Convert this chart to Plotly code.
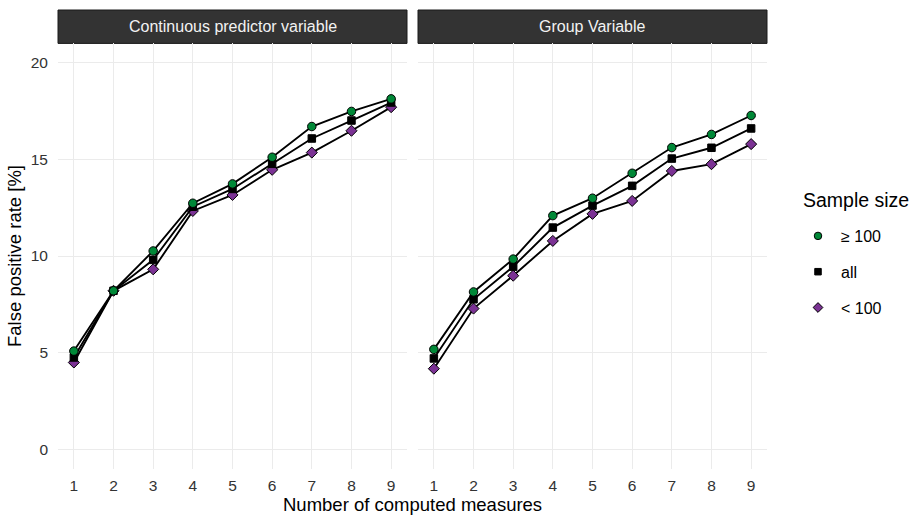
import plotly.graph_objects as go

W, H = 919, 516
measures = [1, 2, 3, 4, 5, 6, 7, 8, 9]
panels = ["Continuous predictor variable", "Group Variable"]
groups = ["≥ 100", "all", "< 100"]

cont_ge100 = [5.08, 8.20, 10.26, 12.73, 13.73, 15.11, 16.70, 17.48, 18.13]
cont_all   = [4.75, 8.20, 9.80, 12.55, 13.47, 14.77, 16.08, 17.01, 17.94]
cont_lt100 = [4.49, 8.20, 9.31, 12.33, 13.16, 14.46, 15.35, 16.48, 17.70]

grp_ge100 = [5.17, 8.14, 9.84, 12.09, 12.99, 14.28, 15.61, 16.29, 17.27]
grp_all   = [4.70, 7.76, 9.45, 11.47, 12.61, 13.63, 15.04, 15.60, 16.60]
grp_lt100 = [4.17, 7.28, 8.98, 10.78, 12.18, 12.85, 14.40, 14.75, 15.79]

y_ticks = [0, 5, 10, 15, 20]

styles = {
    "≥ 100": dict(symbol="circle", color="#008837", size=8.5),
    "all": dict(symbol="square", color="#000000", size=7.5),
    "< 100": dict(symbol="diamond", color="#7b3294", size=8.5),
}

data = {
    panels[0]: {"≥ 100": cont_ge100, "all": cont_all, "< 100": cont_lt100},
    panels[1]: {"≥ 100": grp_ge100, "all": grp_all, "< 100": grp_lt100},
}

FONT = "Liberation Sans, Arial, sans-serif"
TICKC = "#333333"
fig = go.Figure()

axes = [("x", "y"), ("x2", "y2")]
for (xa, ya), p in zip(axes, panels):
    for g in ["< 100", "all", "≥ 100"]:
        s = styles[g]
        fig.add_trace(go.Scatter(
            x=measures, y=data[p][g], xaxis=xa, yaxis=ya, mode="lines+markers",
            line=dict(color="black", width=1.9),
            marker=dict(symbol=s["symbol"], color=s["color"], size=s["size"],
                        line=dict(color="black", width=1)),
            showlegend=False, hoverinfo="skip"))

# legend-only entries (markers only)
for i, g in enumerate(groups):
    s = styles[g]
    fig.add_trace(go.Scatter(
        x=[None], y=[None], mode="markers", name=g, legendgroup=g,
        marker=dict(symbol=s["symbol"], color=s["color"], size=s["size"] - 1,
                    line=dict(color="black", width=1)),
        showlegend=True))

px_l = [(58, 407), (418, 767)]
y_top, y_bot = 43.4, 468.6
ydom = [1 - y_bot / H, 1 - y_top / H]

grid = "#ebebeb"
for i, (l, r) in enumerate(px_l):
    sfx = "" if i == 0 else str(i + 1)
    fig.update_layout(**{
        "xaxis" + sfx: dict(domain=[l / W, r / W], range=[0.6, 9.4],
                            tickvals=measures, ticktext=[str(m) for m in measures],
                            showgrid=True, gridcolor=grid, gridwidth=1.3,
                            zeroline=False, showline=False, ticks="",
                            ticklabelstandoff=6,
                            tickfont=dict(family=FONT, size=15.5, color=TICKC),
                            anchor="y" + sfx, fixedrange=True),
        "yaxis" + sfx: dict(domain=ydom, range=[-1, 21], tickvals=y_ticks,
                            showgrid=True, gridcolor=grid, gridwidth=1.3,
                            zeroline=False, showline=False, ticks="",
                            ticklabelstandoff=9,
                            showticklabels=(i == 0),
                            tickfont=dict(family=FONT, size=15.5, color=TICKC),
                            anchor="x" + sfx, fixedrange=True),
    })
    # strip
    fig.add_shape(type="rect", xref="paper", yref="paper",
                  x0=l / W, x1=r / W, y0=1 - y_top / H, y1=1 - 10 / H,
                  fillcolor="#333333", line=dict(color="#1a1a1a", width=1), layer="below")
    fig.add_annotation(text=panels[i], xref="paper", yref="paper",
                       x=(l + r) / 2 / W, y=1 - 27 / H, showarrow=False,
                       xanchor="center", yanchor="middle",
                       font=dict(family=FONT, size=16, color="#f2f2f2"))

fig.add_annotation(text="Number of computed measures", xref="paper", yref="paper",
                   x=412.5 / W, y=0, showarrow=False,
                   xanchor="center", yanchor="bottom", borderpad=0,
                   font=dict(family=FONT, size=18.5, color="black"))
fig.add_annotation(text="False positive rate [%]", xref="paper", yref="paper",
                   x=14 / W, y=1 - 256 / H, showarrow=False, textangle=-90,
                   xanchor="center", yanchor="middle",
                   font=dict(family=FONT, size=18.5, color="black"))
fig.add_annotation(text="Sample size", xref="paper", yref="paper",
                   x=801 / W, y=1 - 200 / H, showarrow=False,
                   xanchor="left", yanchor="middle",
                   font=dict(family=FONT, size=19.5, color="black"))

fig.update_layout(
    width=W, height=H, margin=dict(l=0, r=0, t=0, b=0),
    paper_bgcolor="white", plot_bgcolor="white",
    legend=dict(x=795 / W, y=1 - 219 / H, xanchor="left", yanchor="top",
                font=dict(family=FONT, size=16, color="black"),
                traceorder="grouped", tracegroupgap=12, itemwidth=36,
                bgcolor="rgba(0,0,0,0)"),
)

fig.write_html("out.html")
